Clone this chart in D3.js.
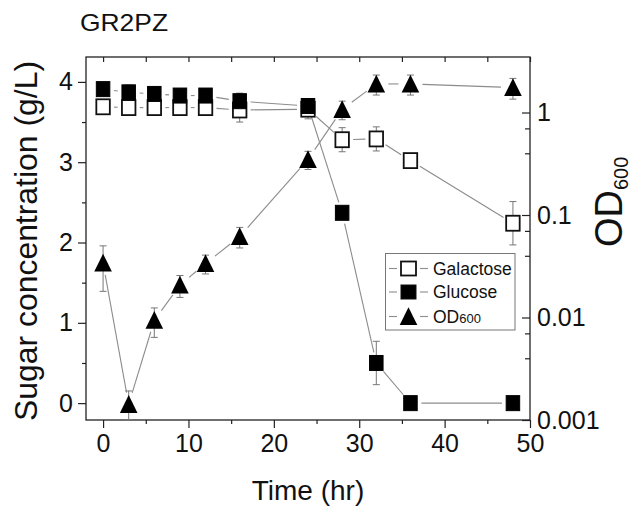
<!DOCTYPE html>
<html>
<head>
<meta charset="utf-8">
<script src="https://cdn.jsdelivr.net/npm/d3@7"></script>
<style>
  body { margin: 0; background: #fff; }
  svg { font-family: "Liberation Sans", Arial, sans-serif; }
</style>
</head>
<body>
<svg id="chart" width="634" height="511"></svg>
<script>
// data
const times = [0, 3, 6, 9, 12, 16, 24, 28, 32, 36, 48];
const galactose    = [3.69, 3.68, 3.68, 3.68, 3.68, 3.65, 3.66, 3.28, 3.29, 3.02, 2.24];
const galactoseErr = [0.04, 0.04, 0.03, 0.03, 0.03, 0.15, 0.12, 0.15, 0.15, 0, 0.27];
const glucose      = [3.91, 3.87, 3.85, 3.83, 3.83, 3.76, 3.70, 2.37, 0.50, 0.0, 0.0];
const glucoseErr   = [0.05, 0.09, 0.03, 0.02, 0.02, 0.10, 0.02, 0.05, 0.27, 0, 0];
const od600        = [0.034, 0.00142, 0.0094, 0.0207, 0.0336, 0.0617, 0.348, 1.07, 1.9, 1.9, 1.75];
const od600Err     = [0.016, 0.0005, 0.003, 0.005, 0.007, 0.014, 0.07, 0.22, 0.42, 0.42, 0.4];

const xTicks = [0, 10, 20, 30, 40, 50];
const xMinor = [5, 15, 25, 35, 45];
const leftTicks = [0, 1, 2, 3, 4];
const leftMinor = [0.5, 1.5, 2.5, 3.5];
const rightTicks = [0.001, 0.01, 0.1, 1];
const rightTickLabels = ["0.001", "0.01", "0.1", "1"];
const rightMinor = [0.007, 0.004, 0.07, 0.04, 0.7, 0.4];

const svg = d3.select("#chart");
const pLeft = 86, pRight = 530, pTop = 57, pBottom = 420;

let x = d3.scaleLinear().domain([-2, 50]).range([pLeft, pRight]);
let yL = d3.scaleLinear().domain([-0.21, 4.31]).range([pBottom, pTop]);
let yR = d3.scaleLog().domain([0.001, 3.48]).range([pBottom, pTop]);

const axisColor = "#222";
const lineColor = "#8c8c8c";

function styleAxis(g) {
  g.select(".domain").remove();
  g.selectAll("line").attr("stroke", axisColor).attr("stroke-width", 1.2);
  g.selectAll("text").attr("fill", "#111").attr("font-size", 25)
    .attr("font-family", "'Liberation Sans', Arial, sans-serif");
}

// axes
svg.append("g").attr("transform", `translate(0,${pBottom})`)
  .call(d3.axisBottom(x).tickValues(xTicks).tickSize(8).tickSizeOuter(0).tickPadding(6))
  .call(styleAxis);
svg.append("g").attr("transform", `translate(0,${pBottom})`)
  .call(d3.axisBottom(x).tickValues(xMinor).tickSize(4).tickFormat(""))
  .call(styleAxis);
svg.append("g").attr("transform", `translate(0,${pTop})`)
  .call(d3.axisTop(x).tickValues(xTicks.concat(xMinor)).tickSize(-5).tickFormat(""))
  .call(styleAxis);

svg.append("g").attr("transform", `translate(${pLeft},0)`)
  .call(d3.axisLeft(yL).tickValues(leftTicks).tickSize(8).tickPadding(5).tickFormat(d3.format("d")))
  .call(styleAxis);
svg.append("g").attr("transform", `translate(${pLeft},0)`)
  .call(d3.axisLeft(yL).tickValues(leftMinor).tickSize(4).tickFormat(""))
  .call(styleAxis);

svg.append("g").attr("transform", `translate(${pRight},0)`)
  .call(d3.axisRight(yR).tickValues(rightTicks).tickSize(-8).tickPadding(7)
    .tickFormat((d, i) => rightTickLabels[i]))
  .call(styleAxis);
svg.append("g").attr("transform", `translate(${pRight},0)`)
  .call(d3.axisRight(yR).tickValues(rightMinor).tickSize(-5).tickFormat(""))
  .call(styleAxis);

// frame
svg.append("rect")
  .attr("x", pLeft).attr("y", pTop)
  .attr("width", pRight - pLeft).attr("height", pBottom - pTop)
  .attr("fill", "none").attr("stroke", axisColor).attr("stroke-width", 1.3);

// connecting lines with gaps around markers
function gapLines(vals, yScale, gap) {
  const pts = vals.map((v, i) => [x(times[i]), yScale(v)]);
  const segs = [];
  for (let i = 0; i < pts.length - 1; i++) {
    const [x1, y1] = pts[i], [x2, y2] = pts[i + 1];
    const len = Math.hypot(x2 - x1, y2 - y1);
    if (len <= 2 * gap) continue;
    const ux = (x2 - x1) / len, uy = (y2 - y1) / len;
    segs.push([x1 + ux * gap, y1 + uy * gap, x2 - ux * gap, y2 - uy * gap]);
  }
  svg.append("g").selectAll("line").data(segs).enter().append("line")
    .attr("x1", d => d[0]).attr("y1", d => d[1])
    .attr("x2", d => d[2]).attr("y2", d => d[3])
    .attr("stroke", lineColor).attr("stroke-width", 1.1);
}
gapLines(galactose, yL, 11);
gapLines(glucose, yL, 11);
gapLines(od600, yR, 12);

// error bars
function errBars(vals, errs, yScale) {
  const g = svg.append("g").attr("stroke", "#777").attr("stroke-width", 1);
  vals.forEach((v, i) => {
    if (!errs[i]) return;
    const cx = x(times[i]);
    const lo = Math.max(v - errs[i], yScale.domain()[0]);
    const y1 = yScale(v + errs[i]), y2 = yScale(lo);
    g.append("line").attr("x1", cx).attr("x2", cx).attr("y1", y1).attr("y2", y2);
    g.append("line").attr("x1", cx - 3.5).attr("x2", cx + 3.5).attr("y1", y1).attr("y2", y1);
    g.append("line").attr("x1", cx - 3.5).attr("x2", cx + 3.5).attr("y1", y2).attr("y2", y2);
  });
}
errBars(galactose, galactoseErr, yL);
errBars(glucose, glucoseErr, yL);
errBars(od600, od600Err, yR);

// markers
const sqW = 13.5, sqH = 15;
const triPath = "M0,-9.3L8.8,8.5L-8.8,8.5Z";

svg.append("g").selectAll("rect").data(galactose).enter().append("rect")
  .attr("x", (d, i) => x(times[i]) - sqW / 2).attr("y", d => yL(d) - sqH / 2)
  .attr("width", sqW).attr("height", sqH)
  .attr("fill", "#fff").attr("stroke", "#111").attr("stroke-width", 1.8);

svg.append("g").selectAll("rect").data(glucose).enter().append("rect")
  .attr("x", (d, i) => x(times[i]) - sqW / 2).attr("y", d => yL(d) - sqH / 2)
  .attr("width", sqW).attr("height", sqH)
  .attr("fill", "#000").attr("stroke", "#000").attr("stroke-width", 1);

svg.append("g").selectAll("path").data(od600).enter().append("path")
  .attr("transform", (d, i) => `translate(${x(times[i])},${yR(d)})`)
  .attr("d", triPath).attr("fill", "#000");

// legend
const lg = svg.append("g");
lg.append("rect").attr("x", 385.5).attr("y", 253.5).attr("width", 129.5).attr("height", 76.5)
  .attr("fill", "#fff").attr("stroke", "#777").attr("stroke-width", 1);
const legendItems = [
  { label: "Galactose", kind: "open", y: 268.5 },
  { label: "Glucose", kind: "filled", y: 292 },
  { label: "OD", sub: "600", kind: "tri", y: 316.5 }
];
legendItems.forEach(it => {
  lg.append("line").attr("x1", 389).attr("x2", 397).attr("y1", it.y).attr("y2", it.y)
    .attr("stroke", lineColor).attr("stroke-width", 1.1);
  lg.append("line").attr("x1", 420).attr("x2", 428).attr("y1", it.y).attr("y2", it.y)
    .attr("stroke", lineColor).attr("stroke-width", 1.1);
  if (it.kind === "tri") {
    lg.append("path").attr("transform", `translate(408.5,${it.y})`).attr("d", triPath).attr("fill", "#000");
  } else {
    lg.append("rect").attr("x", 408.5 - 7.5).attr("y", it.y - 7).attr("width", 15).attr("height", 14)
      .attr("fill", it.kind === "open" ? "#fff" : "#000")
      .attr("stroke", "#111").attr("stroke-width", it.kind === "open" ? 1.8 : 1);
  }
  const t = lg.append("text").attr("x", 433).attr("y", it.y + 6.3)
    .attr("font-size", 17.5).attr("fill", "#111").text(it.label);
  if (it.sub) t.append("tspan").attr("font-size", 13).text(it.sub);
});

// titles
svg.append("text").attr("x", 80).attr("y", 31).attr("font-size", 24)
  .attr("textLength", 88).attr("lengthAdjust", "spacingAndGlyphs")
  .attr("fill", "#111").text("GR2PZ");

svg.append("text").attr("x", (pLeft + pRight) / 2).attr("y", 500)
  .attr("text-anchor", "middle").attr("font-size", 28).attr("fill", "#111")
  .text("Time (hr)");

svg.append("text")
  .attr("transform", "translate(37,241) rotate(-90)")
  .attr("text-anchor", "middle").attr("font-size", 32)
  .attr("textLength", 360).attr("lengthAdjust", "spacingAndGlyphs")
  .attr("fill", "#111").text("Sugar concentration (g/L)");

const odT = svg.append("text")
  .attr("transform", "translate(622,247) rotate(-90)")
  .attr("font-size", 38).attr("fill", "#111").text("OD");
odT.append("tspan").attr("font-size", 20).attr("dy", 6).text("600");
</script>
</body>
</html>
